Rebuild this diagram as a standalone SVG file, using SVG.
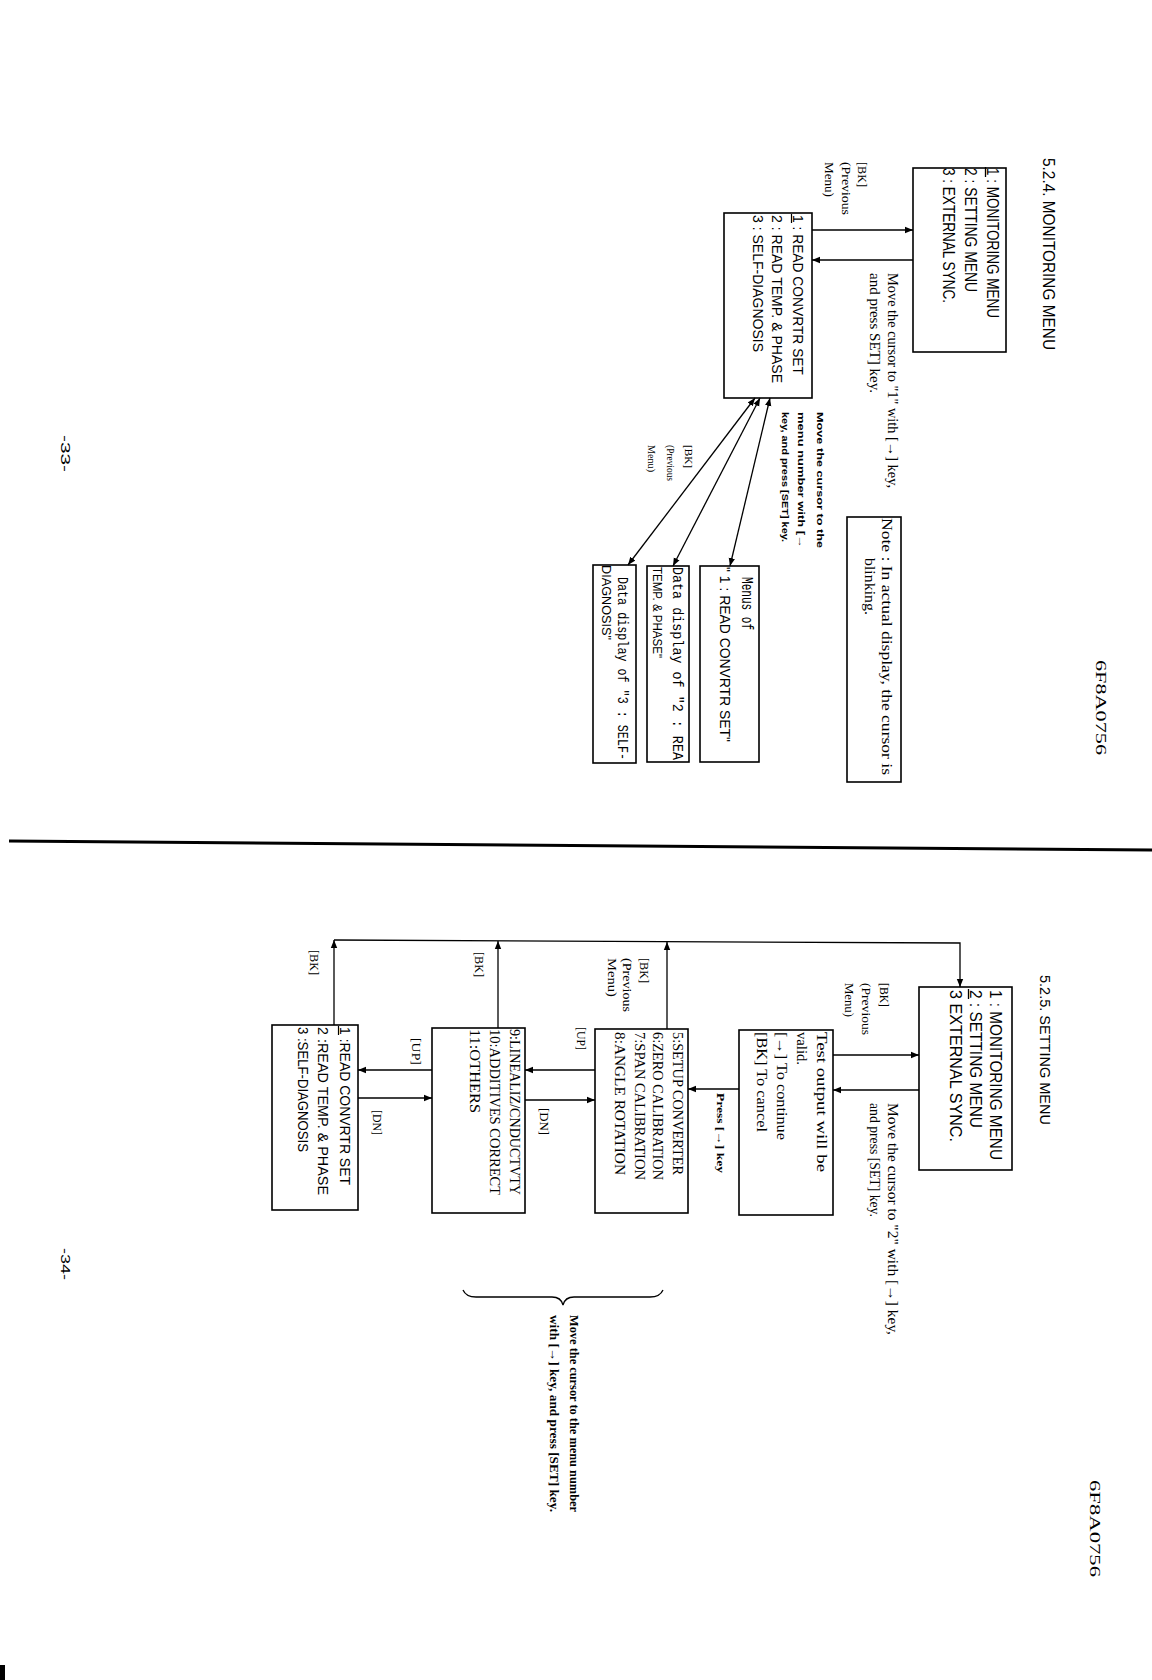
<svg xmlns="http://www.w3.org/2000/svg" width="1152" height="1680" viewBox="0 0 1152 1680">
<style>
.bx{fill:none;stroke:#000;stroke-width:1.6}
.ln{fill:none;stroke:#000;stroke-width:1.3}
.sa{font-family:"Liberation Sans",Arial,sans-serif;fill:#000}
.se{font-family:"Liberation Serif","Times New Roman",serif;fill:#000}
.mo{font-family:"Liberation Mono","Courier New",monospace;fill:#000}
.b{font-weight:bold}
</style>
<defs>
<marker id="ah" viewBox="0 0 10 10" refX="10" refY="5" markerWidth="8" markerHeight="8" markerUnits="userSpaceOnUse" orient="auto-start-reverse">
<path d="M0,1 L10,5 L0,9 Z" fill="#000"/>
</marker>
</defs>

<!-- page decorations -->
<g id="page">
<text class="sa" font-size="16" transform="translate(1043,158) rotate(90)" textLength="192" lengthAdjust="spacingAndGlyphs">5.2.4. MONITORING MENU</text>
<text class="se" font-size="14" transform="translate(1096,660) rotate(90)" textLength="95" lengthAdjust="spacingAndGlyphs">6F8A0756</text>
<text class="sa" font-size="12" transform="translate(61,435) rotate(90)" textLength="37" lengthAdjust="spacingAndGlyphs">-33-</text>
<line x1="9" y1="841" x2="1152" y2="850" stroke="#000" stroke-width="3"/>
<text class="sa" font-size="15" transform="translate(1040,975) rotate(90)" textLength="150" lengthAdjust="spacingAndGlyphs">5.2.5. SETTING MENU</text>
<text class="sa" font-size="12" transform="translate(61,1248) rotate(90)" textLength="32" lengthAdjust="spacingAndGlyphs">-34-</text>
<text class="se" font-size="14" transform="translate(1090,1480) rotate(90)" textLength="97" lengthAdjust="spacingAndGlyphs">6F8A0756</text>
<rect x="0" y="1665" width="5" height="15" fill="#000"/>
</g>

<!-- ===== Monitoring menu ===== -->
<g id="monMain">
<rect class="bx" x="913" y="168" width="93" height="184"/>
<text class="sa" font-size="17" transform="translate(987,168) rotate(90)" textLength="150" lengthAdjust="spacingAndGlyphs">1 : MONITORING MENU</text>
<line x1="985.5" y1="167" x2="985.5" y2="177" stroke="#000" stroke-width="1.3"/>
<text class="sa" font-size="17" transform="translate(965,168) rotate(90)" textLength="124" lengthAdjust="spacingAndGlyphs">2 : SETTING MENU</text>
<text class="sa" font-size="17" transform="translate(943,168) rotate(90)" textLength="135" lengthAdjust="spacingAndGlyphs">3 : EXTERNAL SYNC.</text>
</g>

<g id="monSub">
<rect class="bx" x="724" y="213" width="88" height="185"/>
<text class="sa" font-size="14" transform="translate(793,215) rotate(90)" textLength="160" lengthAdjust="spacingAndGlyphs">1 : READ CONVRTR SET</text>
<line x1="791.5" y1="214" x2="791.5" y2="223" stroke="#000" stroke-width="1.2"/>
<text class="sa" font-size="14" transform="translate(772,215) rotate(90)" textLength="168" lengthAdjust="spacingAndGlyphs">2 : READ TEMP. &amp; PHASE</text>
<text class="sa" font-size="14" transform="translate(753,215) rotate(90)" textLength="137" lengthAdjust="spacingAndGlyphs">3 : SELF-DIAGNOSIS</text>
</g>

<g id="monMenus1">
<rect class="bx" x="700" y="566" width="59" height="196"/>
<text class="mo" font-size="16" transform="translate(742,577) rotate(90)" textLength="53" lengthAdjust="spacingAndGlyphs">Menus of</text>
<text class="sa" font-size="15" transform="translate(720,567) rotate(90)" textLength="175" lengthAdjust="spacingAndGlyphs">" 1 : READ CONVRTR SET"</text>
</g>

<g id="monData2">
<rect class="bx" x="647" y="566" width="42" height="196"/>
<text class="mo" font-size="15" transform="translate(673,567) rotate(90)" textLength="193" lengthAdjust="spacingAndGlyphs">Data display of "2 : REA</text>
<text class="sa" font-size="12" transform="translate(653,567) rotate(90)" textLength="91" lengthAdjust="spacingAndGlyphs">TEMP. &amp; PHASE"</text>
</g>

<g id="monData3">
<rect class="bx" x="593" y="565" width="43" height="198"/>
<text class="mo" font-size="15" transform="translate(618,577) rotate(90)" textLength="183" lengthAdjust="spacingAndGlyphs">Data display of "3 : SELF-</text>
<text class="sa" font-size="12" transform="translate(602,565) rotate(90)" textLength="75" lengthAdjust="spacingAndGlyphs">DIAGNOSIS"</text>
</g>

<g id="monNote">
<rect class="bx" x="847" y="517" width="54" height="265"/>
<text class="se" font-size="15" transform="translate(882,518) rotate(90)" textLength="257" lengthAdjust="spacingAndGlyphs">Note : In actual display, the cursor is</text>
<text class="se" font-size="15" transform="translate(865,558) rotate(90)" textLength="57" lengthAdjust="spacingAndGlyphs">blinking.</text>
</g>

<g id="monLabels">
<text class="se" font-size="12" transform="translate(858,162) rotate(90)" textLength="25" lengthAdjust="spacingAndGlyphs">[BK]</text>
<text class="se" font-size="12" transform="translate(842,162) rotate(90)" textLength="53" lengthAdjust="spacingAndGlyphs">(Previous</text>
<text class="se" font-size="12" transform="translate(825,162) rotate(90)" textLength="35" lengthAdjust="spacingAndGlyphs">Menu)</text>
<text class="se" font-size="14" transform="translate(888,273) rotate(90)" textLength="215" lengthAdjust="spacingAndGlyphs">Move the cursor to "1" with [→] key,</text>
<text class="se" font-size="14" transform="translate(870,273) rotate(90)" textLength="120" lengthAdjust="spacingAndGlyphs">and press SET] key.</text>
<text class="sa b" font-size="9.5" transform="translate(817,412) rotate(90)" textLength="136" lengthAdjust="spacingAndGlyphs">Move the cursor to the</text>
<text class="sa b" font-size="9.5" transform="translate(798,412) rotate(90)" textLength="136" lengthAdjust="spacingAndGlyphs">menu number with [→</text>
<text class="sa b" font-size="9.5" transform="translate(782,412) rotate(90)" textLength="130" lengthAdjust="spacingAndGlyphs">key, and press [SET] key.</text>
<text class="se" font-size="11" transform="translate(685,445) rotate(90)" textLength="23" lengthAdjust="spacingAndGlyphs">[BK]</text>
<text class="se" font-size="11" transform="translate(667,445) rotate(90)" textLength="36" lengthAdjust="spacingAndGlyphs">(Previous</text>
<text class="se" font-size="11" transform="translate(648,445) rotate(90)" textLength="27" lengthAdjust="spacingAndGlyphs">Menu)</text>
</g>

<!-- ===== Setting menu ===== -->
<g id="setMain">
<rect class="bx" x="919" y="987" width="93" height="183"/>
<text class="sa" font-size="17" transform="translate(990,990) rotate(90)" textLength="170" lengthAdjust="spacingAndGlyphs">1 : MONITORING MENU</text>
<text class="sa" font-size="17" transform="translate(970,990) rotate(90)" textLength="138" lengthAdjust="spacingAndGlyphs">2 : SETTING MENU</text>
<line x1="968.5" y1="989" x2="968.5" y2="999" stroke="#000" stroke-width="1.3"/>
<text class="sa" font-size="17" transform="translate(950,990) rotate(90)" textLength="152" lengthAdjust="spacingAndGlyphs">3   EXTERNAL SYNC.</text>
</g>

<g id="setTest">
<rect class="bx" x="739" y="1030" width="94" height="185"/>
<text class="se" font-size="15" transform="translate(817,1032) rotate(90)" textLength="140" lengthAdjust="spacingAndGlyphs">Test output will be</text>
<text class="se" font-size="15" transform="translate(797,1032) rotate(90)" textLength="33" lengthAdjust="spacingAndGlyphs">valid.</text>
<text class="se" font-size="15" transform="translate(777,1032) rotate(90)" textLength="108" lengthAdjust="spacingAndGlyphs">[→] To continue</text>
<text class="se" font-size="15" transform="translate(757,1032) rotate(90)" textLength="100" lengthAdjust="spacingAndGlyphs">[BK] To cancel</text>
</g>

<g id="setSetup">
<rect class="bx" x="595" y="1029" width="93" height="184"/>
<text class="se" font-size="15" transform="translate(673,1032) rotate(90)" textLength="143" lengthAdjust="spacingAndGlyphs">5:SETUP CONVERTER</text>
<text class="se" font-size="15" transform="translate(653,1032) rotate(90)" textLength="148" lengthAdjust="spacingAndGlyphs">6:ZERO CALIBRATION</text>
<text class="se" font-size="15" transform="translate(635,1032) rotate(90)" textLength="148" lengthAdjust="spacingAndGlyphs">7:SPAN CALIBRATION</text>
<text class="se" font-size="15" transform="translate(615,1032) rotate(90)" textLength="143" lengthAdjust="spacingAndGlyphs">8:ANGLE ROTATION</text>
</g>

<g id="setLinear">
<rect class="bx" x="432" y="1028" width="93" height="185"/>
<text class="se" font-size="15" transform="translate(510,1029) rotate(90)" textLength="166" lengthAdjust="spacingAndGlyphs">9:LINEALIZ/CNDUCTVTY</text>
<text class="se" font-size="15" transform="translate(490,1029) rotate(90)" textLength="166" lengthAdjust="spacingAndGlyphs">10:ADDITIVES CORRECT</text>
<text class="se" font-size="15" transform="translate(470,1029) rotate(90)" textLength="84" lengthAdjust="spacingAndGlyphs">11:OTHERS</text>
</g>

<g id="setRead">
<rect class="bx" x="272" y="1025" width="86" height="185"/>
<text class="sa" font-size="14" transform="translate(340,1027) rotate(90)" textLength="158" lengthAdjust="spacingAndGlyphs">1 :READ CONVRTR SET</text>
<line x1="338.5" y1="1026" x2="338.5" y2="1035" stroke="#000" stroke-width="1.2"/>
<text class="sa" font-size="14" transform="translate(318,1027) rotate(90)" textLength="168" lengthAdjust="spacingAndGlyphs">2 :READ TEMP. &amp; PHASE</text>
<text class="sa" font-size="14" transform="translate(298,1027) rotate(90)" textLength="125" lengthAdjust="spacingAndGlyphs">3 :SELF-DIAGNOSIS</text>
</g>

<g id="setLabels">
<text class="se" font-size="12" transform="translate(880,983) rotate(90)" textLength="24" lengthAdjust="spacingAndGlyphs">[BK]</text>
<text class="se" font-size="12" transform="translate(862,983) rotate(90)" textLength="52" lengthAdjust="spacingAndGlyphs">(Previous</text>
<text class="se" font-size="12" transform="translate(845,983) rotate(90)" textLength="34" lengthAdjust="spacingAndGlyphs">Menu)</text>
<text class="se" font-size="14" transform="translate(888,1103) rotate(90)" textLength="232" lengthAdjust="spacingAndGlyphs">Move the cursor to "2" with [→] key,</text>
<text class="se" font-size="14" transform="translate(870,1103) rotate(90)" textLength="114" lengthAdjust="spacingAndGlyphs">and press [SET] key.</text>
<text class="se b" font-size="10.5" transform="translate(717,1093) rotate(90)" textLength="80" lengthAdjust="spacingAndGlyphs">Press [→] key</text>
<text class="se" font-size="12" transform="translate(640,958) rotate(90)" textLength="25" lengthAdjust="spacingAndGlyphs">[BK]</text>
<text class="se" font-size="12" transform="translate(623,958) rotate(90)" textLength="54" lengthAdjust="spacingAndGlyphs">(Previous</text>
<text class="se" font-size="12" transform="translate(608,958) rotate(90)" textLength="39" lengthAdjust="spacingAndGlyphs">Menu)</text>
<text class="se" font-size="12" transform="translate(577,1027) rotate(90)" textLength="23" lengthAdjust="spacingAndGlyphs">[UP]</text>
<text class="se" font-size="12" transform="translate(540,1108) rotate(90)" textLength="27" lengthAdjust="spacingAndGlyphs">[DN]</text>
<text class="se" font-size="12" transform="translate(475,952) rotate(90)" textLength="25" lengthAdjust="spacingAndGlyphs">[BK]</text>
<text class="se" font-size="12" transform="translate(412,1038) rotate(90)" textLength="27" lengthAdjust="spacingAndGlyphs">[UP]</text>
<text class="se" font-size="12" transform="translate(373,1110) rotate(90)" textLength="25" lengthAdjust="spacingAndGlyphs">[DN]</text>
<text class="se" font-size="12" transform="translate(310,950) rotate(90)" textLength="25" lengthAdjust="spacingAndGlyphs">[BK]</text>
<path class="ln" d="M463,1290 Q466,1297 476,1297 L552,1297 Q561,1297 563,1305 Q565,1297 574,1297 L650,1297 Q660,1297 663,1290"/>
<text class="se b" font-size="13" transform="translate(570,1315) rotate(90)" textLength="197" lengthAdjust="spacingAndGlyphs">Move the cursor to the menu number</text>
<text class="se b" font-size="13" transform="translate(550,1315) rotate(90)" textLength="197" lengthAdjust="spacingAndGlyphs">with [→] key, and press [SET] key.</text>
</g>

<!-- connectors -->
<g id="connectors">
<line class="ln" x1="812" y1="230" x2="913" y2="230" marker-end="url(#ah)"/>
<line class="ln" x1="913" y1="260" x2="812" y2="260" marker-end="url(#ah)"/>
<line class="ln" x1="755" y1="398" x2="628" y2="565" marker-start="url(#ah)" marker-end="url(#ah)"/>
<line class="ln" x1="760" y1="398" x2="673" y2="566" marker-start="url(#ah)" marker-end="url(#ah)"/>
<line class="ln" x1="770" y1="398" x2="730" y2="566" marker-start="url(#ah)" marker-end="url(#ah)"/>

<line class="ln" x1="833" y1="1055" x2="919" y2="1055" marker-end="url(#ah)"/>
<line class="ln" x1="919" y1="1090" x2="833" y2="1090" marker-end="url(#ah)"/>
<line class="ln" x1="739" y1="1089" x2="688" y2="1089" marker-end="url(#ah)"/>
<line class="ln" x1="595" y1="1070" x2="525" y2="1070" marker-end="url(#ah)"/>
<line class="ln" x1="525" y1="1100" x2="595" y2="1100" marker-end="url(#ah)"/>
<line class="ln" x1="432" y1="1070" x2="358" y2="1070" marker-end="url(#ah)"/>
<line class="ln" x1="358" y1="1098" x2="432" y2="1098" marker-end="url(#ah)"/>
<path class="ln" d="M334,940 L960,943 L960,987" marker-end="url(#ah)"/>
<line class="ln" x1="334" y1="1025" x2="334" y2="940" marker-end="url(#ah)"/>
<line class="ln" x1="498" y1="1028" x2="498" y2="941" marker-end="url(#ah)"/>
<line class="ln" x1="667" y1="1029" x2="667" y2="942" marker-end="url(#ah)"/>
</g>
</svg>
